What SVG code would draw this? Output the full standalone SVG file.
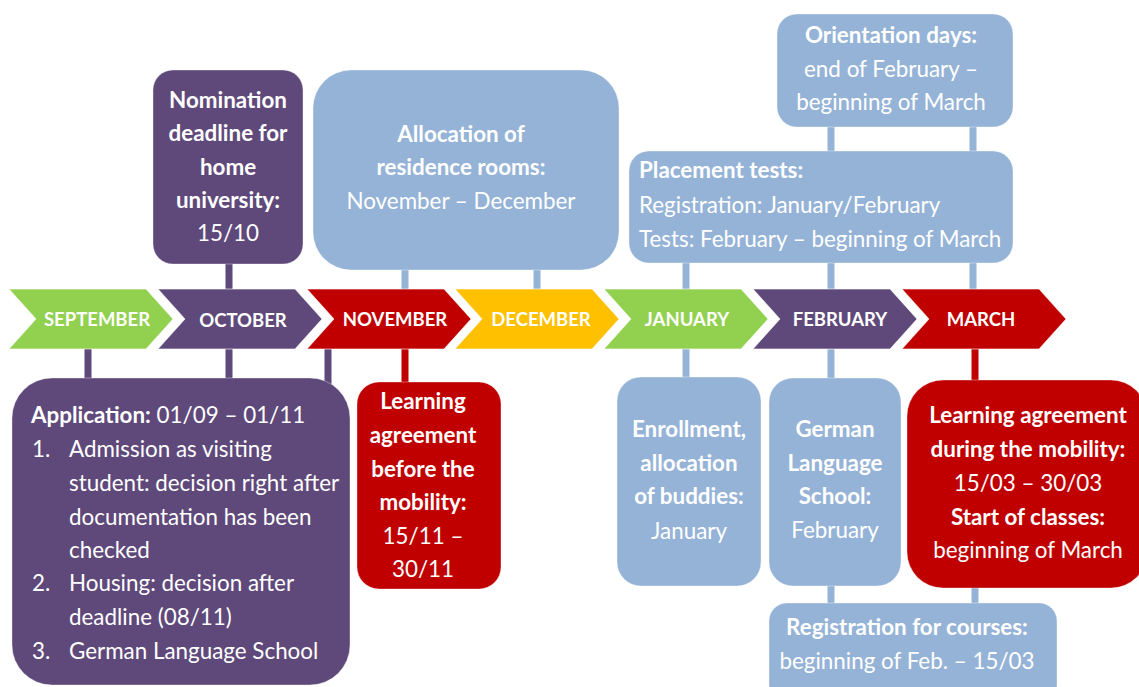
<svg xmlns="http://www.w3.org/2000/svg" width="1139" height="687" viewBox="0 0 1139 687">
<style>
text{font-family:Lato,"Liberation Sans",sans-serif;fill:#ffffff}
.m{font-size:18.5px;font-weight:bold;text-anchor:middle}
.t{font-size:22.4px;text-anchor:middle}
.l{font-size:22.4px}
.b{font-weight:bold}
.green{fill:#92D050}
.purple{fill:#5F497A}
.red{fill:#C00000}
.yellow{fill:#FFC000}
.blue{fill:#95B3D7}
.chev{stroke:#ffffff;stroke-opacity:0.6;stroke-width:1}
.box{stroke:#ffffff;stroke-opacity:0.35;stroke-width:1}
</style>
<rect width="1139" height="687" fill="#ffffff"/>
<g id="connectors">
<rect class="purple" x="225.5" y="262" width="7" height="28"/>
<rect class="blue" x="401.5" y="268" width="7" height="22"/>
<rect class="blue" x="533.5" y="268" width="7" height="22"/>
<rect class="blue" x="827.5" y="125" width="7" height="28"/>
<rect class="blue" x="969.5" y="125" width="7" height="28"/>
<rect class="blue" x="682.5" y="261" width="7" height="29"/>
<rect class="blue" x="827.5" y="261" width="7" height="29"/>
<rect class="blue" x="969.5" y="261" width="7" height="29"/>
<rect class="purple" x="84.5" y="348" width="7" height="34"/>
<rect class="purple" x="225.5" y="348" width="7" height="34"/>
<rect class="purple" x="324.5" y="348" width="7" height="50"/>
<rect class="red" x="401.5" y="348" width="7" height="36"/>
<rect class="blue" x="682.5" y="348" width="7" height="32"/>
<rect class="blue" x="827.5" y="348" width="7" height="32"/>
<rect class="red" x="971.5" y="348" width="7" height="34"/>
<rect class="blue" x="827.5" y="584" width="7" height="21"/>
<rect class="blue" x="971.5" y="586" width="7" height="19"/>
</g>
<g id="sep"><polygon class="green chev" points="9,289 146,289 173,319 146,349 9,349 36,319"/><text class="m" x="97" y="326">SEPTEMBER</text></g>
<g id="oct"><polygon class="purple chev" points="158,289 295,289 322,319 295,349 158,349 185,319"/><text class="m" x="243" y="327">OCTOBER</text></g>
<g id="nov"><polygon class="red chev" points="307,289 444,289 471,319 444,349 307,349 334,319"/><text class="m" x="395" y="326">NOVEMBER</text></g>
<g id="dec"><polygon class="yellow chev" points="455,289 592,289 619,319 592,349 455,349 482,319"/><text class="m" x="541" y="326">DECEMBER</text></g>
<g id="jan"><polygon class="green chev" points="604,289 741,289 768,319 741,349 604,349 631,319"/><text class="m" x="687" y="326">JANUARY</text></g>
<g id="feb"><polygon class="purple chev" points="753,289 890,289 917,319 890,349 753,349 780,319"/><text class="m" x="840" y="326">FEBRUARY</text></g>
<g id="mar"><polygon class="red chev" points="902,289 1039,289 1066,319 1039,349 902,349 929,319"/><text class="m" x="981" y="326">MARCH</text></g>
<g id="nomination"><rect class="purple box" x="153" y="70" width="150" height="194" rx="20"/>
<text class="t b" x="228" y="108">Nomination</text><text class="t b" x="228" y="141">deadline for</text><text class="t b" x="228" y="175">home</text><text class="t b" x="228" y="208">university:</text><text class="t" x="228" y="241">15/10</text></g>
<g id="allocation"><rect class="blue box" x="313" y="70" width="306" height="200" rx="38"/>
<text class="t b" x="461" y="142">Allocation of</text><text class="t b" x="461" y="175">residence rooms:</text><text class="t" x="461" y="209">November – December</text></g>
<g id="orientation"><rect class="blue box" x="777" y="14" width="236" height="113" rx="20"/>
<text class="t b" x="891" y="43">Orientation days:</text><text class="t" x="891" y="77">end of February –</text><text class="t" x="891" y="110">beginning of March</text></g>
<g id="placement"><rect class="blue box" x="629" y="151" width="384" height="112" rx="20"/>
<text class="l b" x="639" y="178">Placement tests:</text><text class="l" x="639" y="213">Registration: January/February</text><text class="l" x="639" y="247">Tests: February – beginning of March</text></g>
<g id="application"><rect class="purple box" x="12" y="378" width="338" height="307" rx="40"/>
<text class="l" x="31" y="423"><tspan class="b">Application:</tspan> 01/09 – 01/11</text>
<text class="l" x="32" y="457">1.</text><text class="l" x="69" y="457">Admission as visiting</text>
<text class="l" x="69" y="491">student: decision right after</text>
<text class="l" x="69" y="525">documentation has been</text>
<text class="l" x="69" y="558">checked</text>
<text class="l" x="32" y="591">2.</text><text class="l" x="69" y="591">Housing: decision after</text>
<text class="l" x="69" y="625">deadline (08/11)</text>
<text class="l" x="32" y="659">3.</text><text class="l" x="69" y="659">German Language School</text></g>
<g id="la-before"><rect class="red box" x="357" y="382" width="144" height="207" rx="22"/>
<text class="t b" x="423" y="409">Learning</text><text class="t b" x="423" y="443">agreement</text><text class="t b" x="423" y="477">before the</text><text class="t b" x="423" y="510">mobility:</text><text class="t" x="423" y="544">15/11 –</text><text class="t" x="423" y="577">30/11</text></g>
<g id="enrollment"><rect class="blue box" x="617" y="377" width="144" height="209" rx="24"/>
<text class="t b" x="689" y="437">Enrollment,</text><text class="t b" x="689" y="471">allocation</text><text class="t b" x="689" y="504">of buddies:</text><text class="t" x="689" y="539">January</text></g>
<g id="german"><rect class="blue box" x="769" y="378" width="132" height="208" rx="24"/>
<text class="t b" x="835" y="437">German</text><text class="t b" x="835" y="471">Language</text><text class="t b" x="835" y="504">School:</text><text class="t" x="835" y="538">February</text></g>
<g id="la-during"><rect class="red box" x="907" y="380" width="240" height="208" rx="36"/>
<text class="t b" x="1028" y="423">Learning agreement</text><text class="t b" x="1028" y="457">during the mobility:</text><text class="t" x="1028" y="491">15/03 – 30/03</text><text class="t b" x="1028" y="525">Start of classes:</text><text class="t" x="1028" y="558">beginning of March</text></g>
<g id="registration"><rect class="blue box" x="769" y="603" width="288" height="100" rx="18"/>
<text class="t b" x="907" y="635">Registration for courses:</text><text class="t" x="907" y="669">beginning of Feb. – 15/03</text></g>
</svg>
